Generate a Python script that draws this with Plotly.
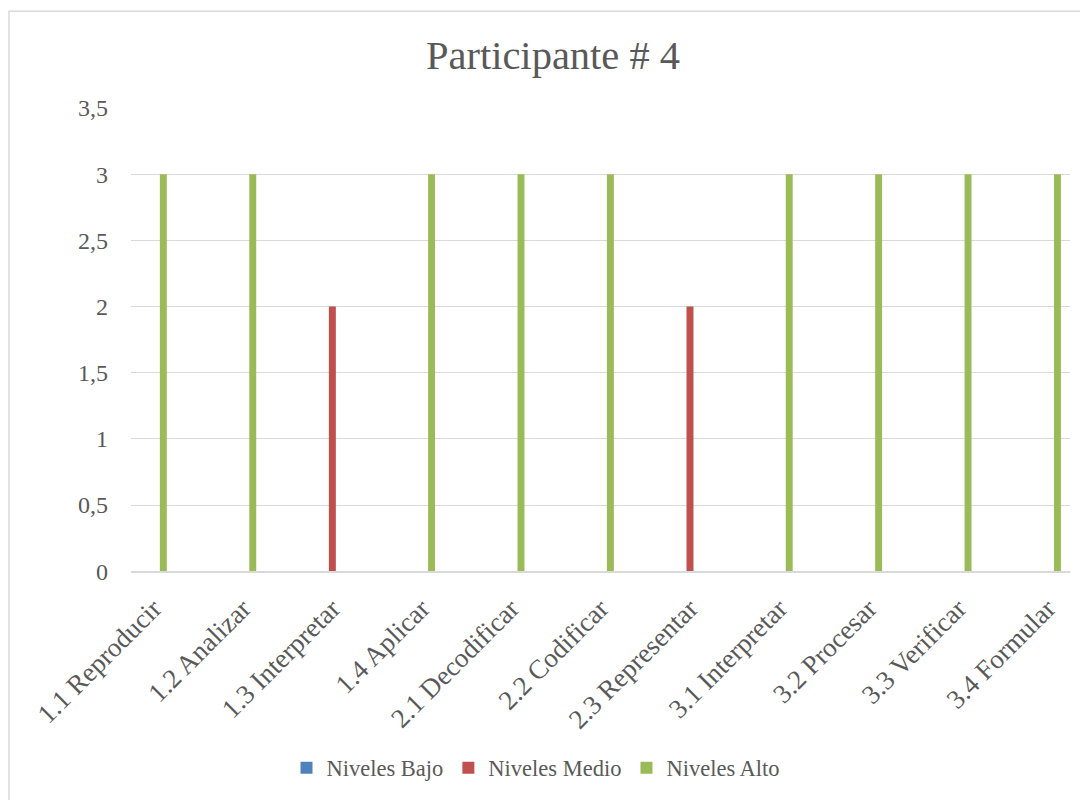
import plotly.graph_objects as go

categories = ["1.1 Reproducir", "1.2 Analizar", "1.3 Interpretar", "1.4 Aplicar",
              "2.1 Decodificar", "2.2 Codificar", "2.3 Representar", "3.1 Interpretar",
              "3.2 Procesar", "3.3 Verificar", "3.4 Formular"]
bajo = [0, 0, 0, 0, 0, 0, 0, 0, 0, 0, 0]
medio = [0, 0, 2, 0, 0, 0, 2, 0, 0, 0, 0]
alto = [3, 3, 0, 3, 3, 3, 0, 3, 3, 3, 3]

FONT = "Liberation Serif"
TXT = "#595959"
OFF = 8  # page offset of the figure in the browser
W, H = 1080, 792
L, T = 131 - OFF, 108 - OFF
PW, PH = 939, 465
R, B = W - L - PW, H - T - PH

def px_x(p):
    return (p - OFF - L) / PW

def px_y(p):
    return (T + PH - (p - OFF)) / PH

fig = go.Figure()
fig.add_bar(name="Niveles Bajo", x=categories, y=bajo, marker=dict(color="#4F81BD", line=dict(width=0)))
fig.add_bar(name="Niveles Medio", x=categories, y=medio, marker=dict(color="#C0504D", line=dict(width=0)))
fig.add_bar(name="Niveles Alto", x=categories, y=alto, marker=dict(color="#9BBB59", line=dict(width=0)))

fig.update_layout(
    width=W, height=H,
    margin=dict(l=L, r=R, t=T, b=B),
    paper_bgcolor="white", plot_bgcolor="white",
    separators=",.",
    barmode="group", bargap=0.671, bargroupgap=0.29,
    font=dict(family=FONT, color=TXT, size=22),
    title=dict(text="Participante # 4", font=dict(family=FONT, size=40.5, color=TXT),
               x=(553 - OFF) / W, xref="container", xanchor="center",
               y=1 - (55 - OFF) / H, yref="container", yanchor="middle"),
    legend=dict(orientation="h", x=(536 - OFF) / W, xanchor="center", xref="container",
                y=1 - (768 - OFF) / H, yref="container", yanchor="middle",
                font=dict(family=FONT, size=22.5, color=TXT), itemwidth=30,
                traceorder="normal"),
    xaxis=dict(type="category", range=[-0.252, 10.25], tickangle=-45, showgrid=False,
               showline=True, linecolor="#D9D9D9", linewidth=1.5, ticks="",
               tickfont=dict(family=FONT, size=27, color=TXT), ticklabelstandoff=9),
    yaxis=dict(range=[0, 3.5], dtick=0.5, showgrid=True, gridcolor="#D9D9D9", gridwidth=1.3,
               zeroline=False, showline=False, ticks="",
               tickfont=dict(family=FONT, size=24, color=TXT), ticklabelstandoff=22),
    shapes=[dict(type="rect", xref="paper", yref="paper",
                 x0=px_x(9), x1=px_x(1110), y0=px_y(830), y1=px_y(11),
                 line=dict(color="#D9D9D9", width=1.5), fillcolor="rgba(0,0,0,0)", layer="below")],
)

fig.write_html("out.html")
